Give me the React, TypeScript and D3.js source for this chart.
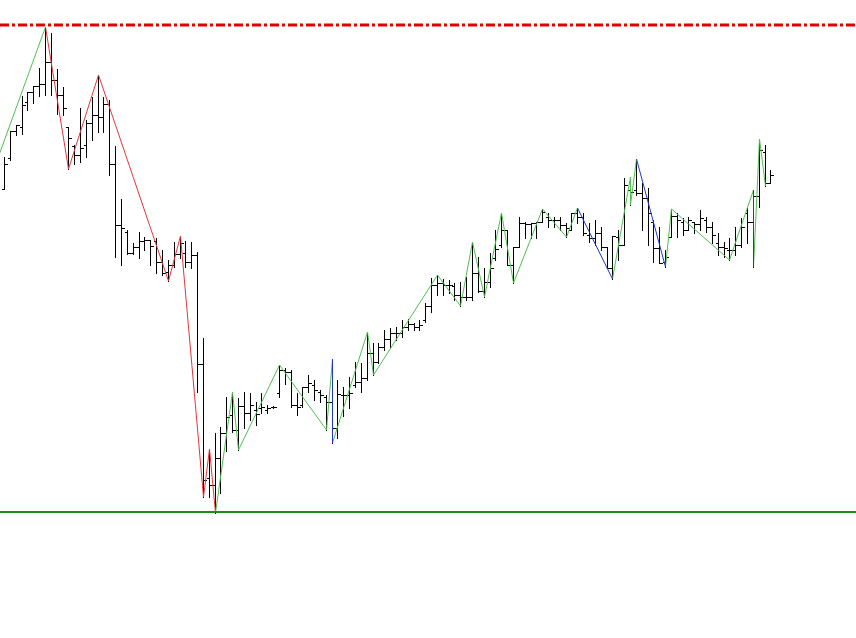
import React from 'react';
import * as d3 from 'd3';

// OHLC prices, one entry per bar (132 bars)
const open = [
  1.1323, 1.1354, 1.1381, 1.1385, 1.1410, 1.1420, 1.1426, 1.1428, 1.1450, 1.1432,
  1.1417, 1.1385, 1.1366, 1.1357, 1.1367, 1.1389, 1.1397, 1.1395, 1.1408, 1.1348,
  1.1287, 1.1280, 1.1259, 1.1265, 1.1271, 1.1272, 1.1271, 1.1250, 1.1240, 1.1247,
  1.1258, 1.1259, 1.1250, 1.1257, 1.1148, 1.1034, 1.1027, 1.1054, 1.1079, 1.1097,
  1.1082, 1.1106, 1.1099, 1.1102, 1.1104, 1.1102, 1.1105, 1.1119, 1.1142, 1.1140,
  1.1107, 1.1107, 1.1125, 1.1127, 1.1120, 1.1115, 1.1110, 1.1084, 1.1117, 1.1117,
  1.1127, 1.1130, 1.1134, 1.1159, 1.1150, 1.1165, 1.1173, 1.1179, 1.1179, 1.1185,
  1.1188, 1.1185, 1.1192, 1.1206, 1.1227, 1.1229, 1.1227, 1.1226, 1.1217, 1.1215,
  1.1215, 1.1239, 1.1221, 1.1230, 1.1254, 1.1267, 1.1282, 1.1247, 1.1265, 1.1289,
  1.1288, 1.1289, 1.1290, 1.1295, 1.1292, 1.1292, 1.1287, 1.1282, 1.1299, 1.1295,
  1.1277, 1.1274, 1.1279, 1.1265, 1.1244, 1.1275, 1.1267, 1.1322, 1.1322, 1.1319,
  1.1314, 1.1290, 1.1264, 1.1250, 1.1275, 1.1296, 1.1290, 1.1282, 1.1290, 1.1288,
  1.1292, 1.1285, 1.1269, 1.1265, 1.1262, 1.1262, 1.1267, 1.1299, 1.1290, 1.1316,
  1.1360, 1.1329,
];
const high = [
  1.1355, 1.1381, 1.1387, 1.1416, 1.1420, 1.1426, 1.1444, 1.1485, 1.1479, 1.1443,
  1.1425, 1.1385, 1.1367, 1.1404, 1.1392, 1.1415, 1.1437, 1.1415, 1.1412, 1.1366,
  1.1313, 1.1282, 1.1269, 1.1280, 1.1275, 1.1272, 1.1274, 1.1262, 1.1252, 1.1270,
  1.1276, 1.1271, 1.1270, 1.1260, 1.1174, 1.1063, 1.1079, 1.1085, 1.1115, 1.1120,
  1.1114, 1.1120, 1.1119, 1.1110, 1.1119, 1.1107, 1.1106, 1.1147, 1.1144, 1.1142,
  1.1119, 1.1125, 1.1137, 1.1132, 1.1122, 1.1117, 1.1153, 1.1132, 1.1125, 1.1135,
  1.1150, 1.1149, 1.1180, 1.1169, 1.1169, 1.1182, 1.1184, 1.1185, 1.1192, 1.1193,
  1.1189, 1.1192, 1.1209, 1.1234, 1.1237, 1.1233, 1.1232, 1.1229, 1.1230, 1.1235,
  1.1270, 1.1255, 1.1244, 1.1259, 1.1282, 1.1299, 1.1282, 1.1265, 1.1295, 1.1290,
  1.1289, 1.1290, 1.1303, 1.1299, 1.1295, 1.1295, 1.1289, 1.1299, 1.1304, 1.1299,
  1.1289, 1.1292, 1.1285, 1.1265, 1.1276, 1.1282, 1.1334, 1.1335, 1.1353, 1.1329,
  1.1324, 1.1292, 1.1285, 1.1262, 1.1303, 1.1299, 1.1294, 1.1295, 1.1290, 1.1302,
  1.1295, 1.1290, 1.1279, 1.1270, 1.1274, 1.1285, 1.1294, 1.1305, 1.1322, 1.1373,
  1.1367, 1.1342,
];
const low = [
  1.1323, 1.1352, 1.1377, 1.1378, 1.1402, 1.1409, 1.1416, 1.1417, 1.1417, 1.1398,
  1.1397, 1.1343, 1.1348, 1.1350, 1.1355, 1.1372, 1.1380, 1.1380, 1.1337, 1.1255,
  1.1247, 1.1258, 1.1258, 1.1254, 1.1262, 1.1247, 1.1239, 1.1237, 1.1231, 1.1245,
  1.1254, 1.1245, 1.1244, 1.1120, 1.1015, 1.1015, 1.0999, 1.1019, 1.1061, 1.1080,
  1.1062, 1.1084, 1.1092, 1.1087, 1.1099, 1.1099, 1.1104, 1.1115, 1.1128, 1.1105,
  1.1097, 1.1105, 1.1120, 1.1112, 1.1110, 1.1082, 1.1069, 1.1074, 1.1096, 1.1104,
  1.1125, 1.1120, 1.1132, 1.1137, 1.1149, 1.1162, 1.1165, 1.1172, 1.1175, 1.1182,
  1.1182, 1.1182, 1.1190, 1.1200, 1.1217, 1.1217, 1.1219, 1.1212, 1.1206, 1.1212,
  1.1212, 1.1220, 1.1215, 1.1225, 1.1252, 1.1265, 1.1247, 1.1229, 1.1265, 1.1274,
  1.1274, 1.1274, 1.1290, 1.1285, 1.1285, 1.1282, 1.1275, 1.1282, 1.1289, 1.1277,
  1.1270, 1.1267, 1.1262, 1.1244, 1.1233, 1.1252, 1.1267, 1.1307, 1.1317, 1.1282,
  1.1267, 1.1250, 1.1249, 1.1245, 1.1275, 1.1275, 1.1277, 1.1282, 1.1279, 1.1282,
  1.1280, 1.1269, 1.1257, 1.1255, 1.1252, 1.1257, 1.1265, 1.1269, 1.1245, 1.1305,
  1.1326, 1.1329,
];
const close = [
  1.1348, 1.1381, 1.1387, 1.1407, 1.1420, 1.1426, 1.1428, 1.1450, 1.1432, 1.1417,
  1.1404, 1.1374, 1.1357, 1.1364, 1.1389, 1.1397, 1.1395, 1.1408, 1.1348, 1.1287,
  1.1284, 1.1259, 1.1265, 1.1271, 1.1272, 1.1266, 1.1250, 1.1239, 1.1247, 1.1258,
  1.1269, 1.1250, 1.1257, 1.1148, 1.1032, 1.1027, 1.1054, 1.1079, 1.1095, 1.1082,
  1.1106, 1.1099, 1.1107, 1.1098, 1.1105, 1.1104, 1.1105, 1.1142, 1.1140, 1.1107,
  1.1105, 1.1125, 1.1129, 1.1122, 1.1117, 1.1110, 1.1084, 1.1118, 1.1117, 1.1119,
  1.1130, 1.1134, 1.1159, 1.1150, 1.1165, 1.1173, 1.1179, 1.1179, 1.1185, 1.1188,
  1.1185, 1.1187, 1.1206, 1.1227, 1.1229, 1.1227, 1.1227, 1.1217, 1.1215, 1.1215,
  1.1239, 1.1221, 1.1230, 1.1244, 1.1263, 1.1282, 1.1247, 1.1265, 1.1289, 1.1288,
  1.1289, 1.1290, 1.1300, 1.1292, 1.1292, 1.1287, 1.1284, 1.1299, 1.1295, 1.1279,
  1.1274, 1.1279, 1.1265, 1.1244, 1.1276, 1.1267, 1.1327, 1.1320, 1.1319, 1.1314,
  1.1299, 1.1264, 1.1249, 1.1255, 1.1296, 1.1292, 1.1282, 1.1292, 1.1288, 1.1294,
  1.1285, 1.1277, 1.1265, 1.1264, 1.1262, 1.1267, 1.1285, 1.1290, 1.1316, 1.1362,
  1.1329, 1.1337,
];

// zigzag turning points: bar index and price
const zzBar = [-2, 7, 11, 16, 28, 30, 34, 35, 36, 39, 40, 47, 55, 56, 56, 62, 63, 74, 78, 80, 82, 85, 87, 92, 96, 98, 104, 107, 107, 108, 113, 114, 124, 128, 128, 129, 130];
const zzPrice = [1.1339, 1.1485, 1.1343, 1.1437, 1.1231, 1.1276, 1.1015, 1.1063, 1.0999, 1.1120, 1.1062, 1.1147, 1.1082, 1.1153, 1.1069, 1.1180, 1.1137, 1.1237, 1.1206, 1.1270, 1.1215, 1.1299, 1.1229, 1.1303, 1.1275, 1.1304, 1.1233, 1.1335, 1.1307, 1.1353, 1.1245, 1.1303, 1.1252, 1.1322, 1.1245, 1.1373, 1.1326];
// colour of each leg (from point k to k+1)
const zzLeg = 'grrrrrrrgggggbgggggggggggbgggbgggbgg'.split('');

const resistance = 1.1487;
const support = 1.1000;

const W = 856;
const H = 638;

const legColor: Record<string, string> = { g: '#52bf52', r: '#e2373c', b: '#1f36d0' };

export default function App() {
  const n = open.length;
  const x = d3.scaleLinear().domain([0, n - 1]).range([4, 770.35]);
  const y = d3.scaleLinear().domain([support, resistance]).range([512, 25]);
  const px = (i: number) => Math.round(x(i)) + 0.5;
  const py = (v: number) => Math.round(y(v)) + 0.5;

  const legs = zzLeg.map((c, k) => ({
    x1: px(zzBar[k]), y1: y(zzPrice[k]),
    x2: px(zzBar[k + 1]), y2: y(zzPrice[k + 1]),
    kind: c,
    color: legColor[c],
  }));
  // blue legs on top
  const ordered = [...legs.filter(l => l.kind !== 'b'), ...legs.filter(l => l.kind === 'b')];

  return (
    <svg width={W} height={H} style={{ position: 'absolute', left: 0, top: 0, background: '#fff' }}>
      <g stroke="#000" strokeWidth={1} shapeRendering="crispEdges">
        {open.map((o, i) => {
          const cx = px(i);
          return (
            <g key={i}>
              <line x1={cx} x2={cx} y1={py(high[i]) - 0.5} y2={py(low[i]) + 0.5} />
              <line x1={cx - 3} x2={cx} y1={py(o)} y2={py(o)} />
              <line x1={cx} x2={cx + 3} y1={py(close[i])} y2={py(close[i])} />
            </g>
          );
        })}
      </g>
      <g fill="none" strokeWidth={1}>
        {ordered.map((l, k) => (
          <line key={k} x1={l.x1} y1={l.y1} x2={l.x2} y2={l.y2} stroke={l.color}
            shapeRendering={l.x1 === l.x2 ? 'crispEdges' : undefined} />
        ))}
      </g>
      <line x1={0} x2={W} y1={y(resistance)} y2={y(resistance)}
        stroke="#e00000" strokeWidth={3} strokeDasharray="9,3,3,3" />
      <line x1={0} x2={W} y1={y(support)} y2={y(support)}
        stroke="#1a8c1a" strokeWidth={2} />
    </svg>
  );
}
